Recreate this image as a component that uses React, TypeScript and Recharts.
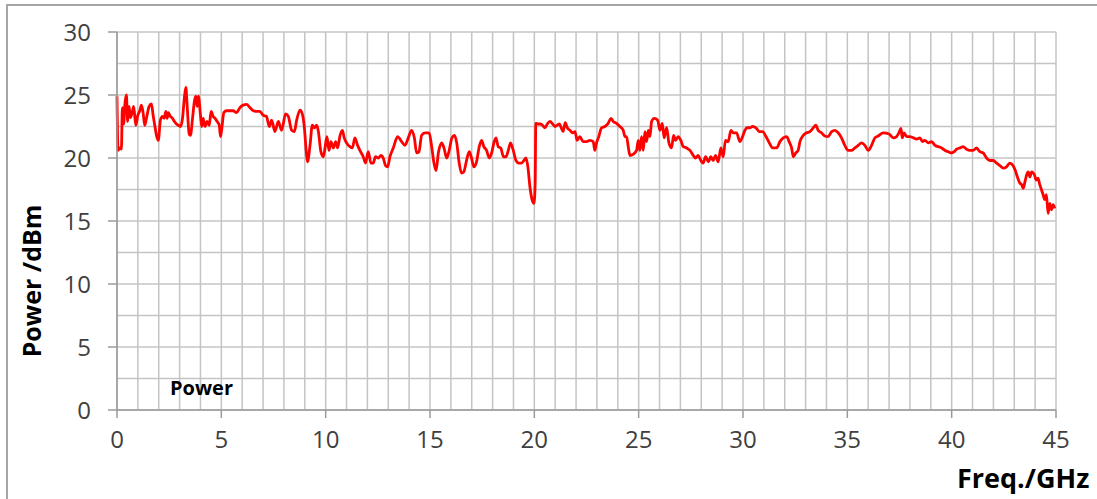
import { CartesianGrid, Line, LineChart, XAxis, YAxis } from "recharts";

// 功率-频率扫描曲线
const freq = [
  0, 0.05, 0.13, 0.21, 0.26, 0.32, 0.37, 0.45, 0.51, 0.58, 0.64, 0.74, 0.8, 0.9, 1.0, 1.09, 1.17, 1.25, 1.33, 1.44,
  1.54, 1.65, 1.73, 1.81, 1.89, 1.98, 2.08, 2.18, 2.26, 2.34, 2.4, 2.46, 2.56, 2.66, 2.75, 2.85, 2.94, 3.04, 3.14, 3.23,
  3.3, 3.36, 3.46, 3.52, 3.62, 3.71, 3.78, 3.84, 3.9, 4.0, 4.06, 4.13, 4.22, 4.32, 4.42, 4.51, 4.61, 4.7, 4.8, 4.9,
  4.96, 5.02, 5.12, 5.25, 5.4, 5.57, 5.73, 5.89, 6.05, 6.21, 6.37, 6.53, 6.69, 6.85, 7.0, 7.16, 7.3,
  7.41, 7.57, 7.73, 7.89, 8.08, 8.21, 8.37, 8.5, 8.61, 8.77, 8.88, 8.98, 9.07, 9.13, 9.25, 9.36, 9.46, 9.57, 9.65, 9.77,
  9.89, 9.97, 10.06, 10.16, 10.25, 10.37, 10.48, 10.57, 10.69, 10.8, 10.89, 11.0, 11.16, 11.28, 11.4, 11.53, 11.64, 11.8,
  11.91, 12.04, 12.17, 12.28, 12.39, 12.52, 12.65, 12.76, 12.87, 12.97, 13.08, 13.24, 13.45, 13.64, 13.8, 13.96, 14.12,
  14.25, 14.36, 14.47, 14.6, 14.76,
  14.96, 15.08, 15.19, 15.29, 15.4, 15.56, 15.67, 15.8, 15.92, 16.05, 16.18, 16.28, 16.4, 16.51, 16.62, 16.75, 16.88,
  16.99, 17.1, 17.23, 17.36, 17.47, 17.58, 17.71, 17.84, 17.97, 18.06, 18.16, 18.27, 18.39, 18.52, 18.64, 18.75, 18.86,
  18.99, 19.12, 19.25, 19.39, 19.5, 19.6, 19.69, 19.79, 19.89, 19.98, 20.04, 20.07, 20.18, 20.29, 20.39, 20.51, 20.62,
  20.75, 20.88, 20.99, 21.1, 21.2, 21.29, 21.38, 21.48, 21.58, 21.71, 21.83,
  21.95, 22.05, 22.18, 22.34, 22.5, 22.66, 22.82, 22.9, 22.98, 23.09, 23.22, 23.38, 23.54, 23.67, 23.78, 23.94, 24.1,
  24.26, 24.34, 24.42, 24.5, 24.58, 24.74, 24.9, 24.98, 25.06, 25.14, 25.22, 25.3, 25.38, 25.46, 25.54, 25.62, 25.75,
  25.91, 26.02, 26.13, 26.22, 26.34, 26.45, 26.58, 26.67, 26.77, 26.89, 27.02, 27.14, 27.3, 27.46, 27.62, 27.72, 27.85,
  27.98, 28.09, 28.21, 28.34, 28.46, 28.57, 28.68, 28.81, 28.94, 29.05, 29.16, 29.29, 29.42,
  29.53, 29.69, 29.85, 29.98, 30.09, 30.2, 30.33, 30.46, 30.62, 30.78, 30.94, 31.1, 31.26, 31.42, 31.61, 31.77, 31.93,
  32.09, 32.21, 32.33, 32.41, 32.53, 32.64, 32.73, 32.89, 33.05, 33.21, 33.37, 33.49, 33.6, 33.76, 33.92, 34.08, 34.25,
  34.4, 34.56, 34.72, 34.88, 35.04, 35.2, 35.36, 35.52, 35.68, 35.84, 36.0, 36.16, 36.32, 36.48, 36.72,
  37.0, 37.2, 37.36, 37.47, 37.57, 37.63, 37.72, 37.84, 38.0, 38.16, 38.32, 38.48, 38.6, 38.72, 38.88, 39.04, 39.2,
  39.36, 39.52, 39.68, 39.84, 39.99, 40.12, 40.24, 40.4, 40.55, 40.71, 40.87, 41.03, 41.19, 41.35, 41.51, 41.67, 41.83,
  41.99, 42.15, 42.31, 42.47, 42.63, 42.78, 42.94, 43.05, 43.15, 43.27, 43.35, 43.43, 43.51, 43.59, 43.67, 43.75, 43.83,
  43.97, 44.06, 44.14, 44.22, 44.3, 44.38, 44.46, 44.54, 44.62, 44.7, 44.78, 44.86, 44.94,
];

const power = [
  24.9, 20.6, 20.8, 20.7, 24.0, 22.7, 24.1, 25.0, 22.9, 24.1, 23.2, 23.7, 24.1, 22.6, 23.4, 23.75, 24.2, 23.6, 22.6, 23.4,
  24.1, 24.3, 23.4, 22.6, 21.8, 21.4, 23.0, 23.3, 23.15, 23.7, 23.15, 23.6, 23.3, 23.15, 22.9, 22.7, 22.6, 22.5, 23.15, 24.8,
  25.6, 24.2, 21.9, 21.8, 23.15, 24.5, 24.9, 24.1, 24.9, 23.4, 22.5, 23.15, 22.5, 22.9, 22.6, 23.7, 23.3, 23.15, 22.9, 22.6,
  21.7, 22.3, 23.6, 23.75, 23.75, 23.75, 23.6, 24.0, 24.2, 24.25, 24.0, 23.75, 23.7, 23.7, 23.4, 23.3, 22.5,
  23.0, 22.1, 22.9, 22.2, 23.5, 23.3, 22.2, 22.1, 23.0, 23.8, 23.5, 22.4, 20.5, 19.7, 21.0, 22.6, 22.4, 22.6, 22.1, 20.5,
  20.1, 20.8, 21.7, 20.6, 21.3, 20.8, 21.3, 20.8, 21.8, 22.2, 21.6, 21.2, 20.9, 20.8, 21.6, 21.0, 20.6, 20.1,
  19.6, 20.5, 19.6, 19.6, 20.1, 20.0, 20.2, 20.0, 19.4, 19.3, 20.1, 20.8, 21.7, 21.3, 21.0, 21.6, 22.2,
  21.6, 20.4, 20.5, 21.8, 22.0,
  22.0, 20.9, 19.6, 19.0, 20.4, 21.2, 20.8, 20.0, 20.6, 21.6, 21.8, 21.2, 19.6, 18.8, 18.9, 19.8, 20.5,
  20.0, 19.3, 19.7, 20.9, 21.4, 20.9, 20.6, 20.0, 20.5, 21.2, 21.6, 20.9, 20.8, 20.1, 20.1, 20.6, 21.2,
  20.6, 19.8, 19.6, 19.6, 19.8, 20.0, 19.3, 17.7, 16.7, 16.4, 18.0, 22.75, 22.7, 22.7, 22.6, 22.4, 22.7,
  22.9, 22.7, 22.5, 22.6, 22.7, 22.4, 22.1, 22.8, 22.4, 22.2, 22.0,
  22.1, 21.4, 21.7, 21.3, 21.3, 21.4, 21.3, 20.6, 21.2, 21.7, 22.4, 22.5, 22.75, 23.15, 22.9, 22.75, 22.5,
  22.2, 21.7, 21.7, 20.9, 20.2, 20.3, 20.6, 21.4, 20.6, 21.7, 20.6, 22.1, 21.3, 22.2, 21.7, 22.9, 23.15,
  23.0, 22.2, 22.75, 21.6, 22.4, 21.2, 20.8, 21.8, 21.4, 21.7, 21.4, 20.9, 20.8, 20.6, 20.2, 20.0, 20.2,
  19.8, 19.6, 20.1, 19.7, 20.1, 19.8, 20.2, 19.7, 20.8, 20.1, 21.4, 21.3, 22.2,
  22.0, 22.0, 21.3, 21.7, 22.2, 22.4, 22.4, 22.5, 22.4, 22.1, 22.1, 21.7, 21.2, 20.8, 20.8, 21.3, 21.6,
  21.7, 21.3, 20.8, 20.1, 20.4, 20.6, 21.3, 21.8, 22.0, 22.1, 22.4, 22.6, 22.2, 22.0, 21.75, 21.7, 22.1,
  22.2, 22.0, 21.6, 21.0, 20.6, 20.6, 20.8, 21.0, 21.2, 21.0, 20.6, 21.0, 21.6, 21.75, 22.0,
  21.9, 21.6, 21.7, 22.0, 22.35, 21.6, 22.0, 21.7, 21.7, 21.6, 21.5, 21.6, 21.3, 21.4, 21.2, 21.3, 21.0,
  20.9, 20.8, 20.6, 20.5, 20.4, 20.5, 20.7, 20.8, 20.9, 20.7, 20.6, 20.6, 20.8, 20.5, 20.4, 20.0, 19.8,
  19.8, 19.6, 19.4, 19.2, 19.3, 19.6, 19.4, 19.0, 18.5, 18.0, 17.9, 17.6, 18.1, 18.65, 18.9, 18.5, 18.9,
  18.65, 18.25, 18.4, 17.9, 17.5, 17.1, 16.7, 17.1, 15.6, 16.4, 15.9, 16.3, 16.0,
];

const xTicks = [0, 5, 10, 15, 20, 25, 30, 35, 40, 45];
const yTicks = [0, 5, 10, 15, 20, 25, 30];
const xGrid = Array.from({ length: 46 }, (_, i) => i);
const yGrid = [0, 2.5, 5, 7.5, 10, 12.5, 15, 17.5, 20, 22.5, 25, 27.5, 30];

const data = freq.map((f, i) => ({ f, p: power[i] }));

const FONT = "'Open Sans', 'DejaVu Sans', sans-serif";
const GRID = "#c4c4c4";

export default function App() {
  return (
    <div
      style={{
        position: "absolute",
        left: 0,
        top: 0,
        width: 1097,
        height: 499,
        background: "#fff",
        overflow: "hidden",
        fontFamily: FONT,
      }}
    >
      {/* 外框 */}
      <div
        style={{
          position: "absolute",
          left: 6,
          top: 4,
          width: 1200,
          height: 600,
          borderLeft: "2px solid #a6a6a6",
          borderTop: "2px solid #a6a6a6",
        }}
      />
      <LineChart
        width={1097}
        height={499}
        data={data}
        margin={{ top: 32, right: 41, left: 17, bottom: 29 }}
        style={{ position: "absolute", left: 0, top: 0 }}
      >
        <CartesianGrid
          stroke={GRID}
          strokeWidth={1.5}
          horizontalValues={yGrid}
          verticalValues={xGrid}
        />
        <XAxis
          type="number"
          dataKey="f"
          domain={[0, 45]}
          ticks={xTicks}
          interval={0}
          height={60}
          stroke="#9a9a9a"
          strokeWidth={1.5}
          tickSize={8}
          tickMargin={13}
          tick={{ fill: "#404040", fontSize: 24, fontFamily: FONT }}
        />
        <YAxis
          type="number"
          domain={[0, 30]}
          ticks={yTicks}
          interval={0}
          width={100}
          stroke="#9a9a9a"
          strokeWidth={1.5}
          tickSize={9}
          tickMargin={17}
          tick={{ fill: "#404040", fontSize: 24, fontFamily: FONT }}
        />
        <Line
          type="monotone"
          dataKey="p"
          stroke="#ff0000"
          strokeWidth={2.8}
          dot={false}
          isAnimationActive={false}
        />
      </LineChart>
      <div
        style={{
          position: "absolute",
          left: 31,
          top: 281,
          transform: "translate(-50%, -50%) rotate(-90deg)",
          whiteSpace: "nowrap",
          fontWeight: 700,
          fontSize: 25,
          color: "#000",
        }}
      >
        Power /dBm
      </div>
      <div
        style={{
          position: "absolute",
          left: 170,
          top: 374,
          fontWeight: 700,
          fontSize: 20,
          color: "#000",
        }}
      >
        Power
      </div>
      <div
        style={{
          position: "absolute",
          left: 957,
          top: 459,
          fontWeight: 700,
          fontSize: 27,
          color: "#000",
          whiteSpace: "nowrap",
        }}
      >
        Freq./GHz
      </div>
    </div>
  );
}
